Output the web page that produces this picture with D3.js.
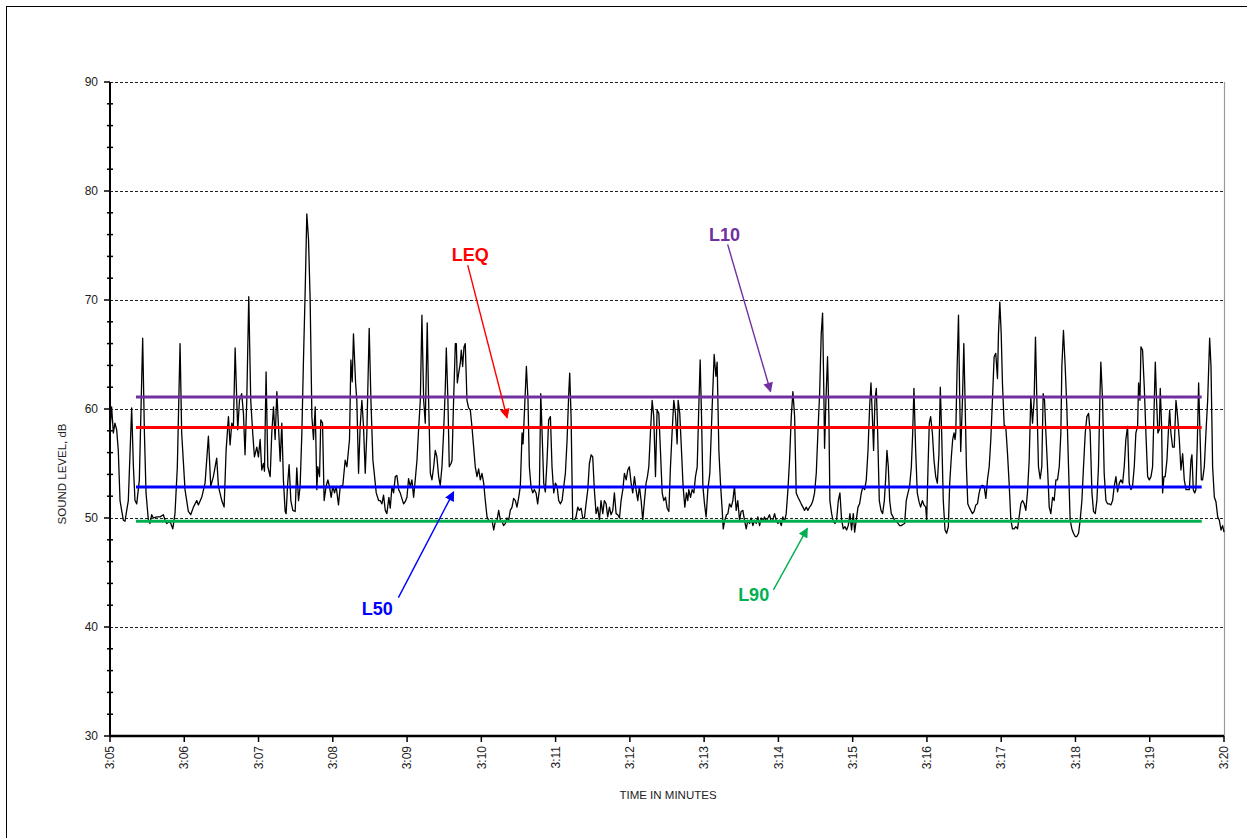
<!DOCTYPE html>
<html>
<head>
<meta charset="utf-8">
<script src="https://cdn.jsdelivr.net/npm/d3@7"></script>
<style>
  body { margin: 0; background: #fff; }
  svg { display: block; }
  text { font-family: "Liberation Sans Narrow", "Arial Narrow", "Liberation Sans", Arial, sans-serif; }
</style>
</head>
<body>
<svg id="chart" width="1247" height="838"></svg>
<script>
// ---- data: sound level trace, [seconds after 3:05:00, dB] ----
const trace1 = [
  [0,58.1],[1.3,60.2],[2.7,57.8],[4,58.7],[5.4,58.1],[6.7,56.2],[8.1,51.6],[9.4,50.7],[10.8,49.8],[12.1,49.7],
  [13.5,50.7],[14.8,51.6],[17.5,60.1],[18.9,54.7],[20.2,51.6],[21.6,51.3],[23.7,53.5],[26.4,66.5],[27.8,57.8],[29.1,52.3],
  [31,49.8],[32.3,49.5],[33.7,50.3],[35,50],[37.7,50.1],[40.4,50.1],[43.1,50.3],[44.5,49.8],[45.8,49.5],[48.5,49.7],
  [50.7,49],[52.5,50.4],[54.4,54.7],[56.6,66],[57.9,57.8],[60.6,52.6],[63.3,50.6],[65.2,50.3],[67.4,51],[70.1,51.6],
  [71.4,51.2],[74.1,51.9],[76.8,53.2],[79.5,57.5],[81.4,52.9],[83.5,53.8],[86.2,55.5],[87.6,52.9],[90.3,51.6],[92.2,51],
  [93.8,56.2],[95.7,59.3],[97,56.7],[98.4,58.7],[99.7,58.4],[101.1,65.6],[102.4,60.8],[103.2,58.1],[104.6,60.8],[106.4,61.4],
  [107.8,59.6],[109.1,55.8],[110.5,60.8],[112.1,70.3],[113.7,60.8],[115.3,57.8],[116.7,55.6],[118.6,56.5],[119.9,55.6],[121.3,57.2],
  [122.6,54.4],[124,55],[124.8,54.3],[126.1,63.4],[127.5,54.7],[129.4,53.8],[130.7,57.8],[132.1,60.2],[133.4,57.2],[134.8,61.6],
  [136.1,58.4],[137.5,55.2],[138.8,58.7],[140.1,53.5],[141.5,50.6],[142.3,50.4],[143.4,52.9],[144.7,54.9],[146.1,51.6],[147.7,50.7],
  [149.6,50.6],[150.9,54.6],[152.3,51.6],[153.6,52.9],[155,57.8],[156.3,64.5],[157.7,70.9],[159,77.9],[160.4,75.5],[161.7,70],
  [163.1,59.3],[164.4,57.2],[165.8,60.2],[167.1,52.6],[167.9,54.7],[169.3,53.8],[170.3,59],[171.7,58.7],[173,51.6],[174.6,52.9],
  [176,53.5],[177.3,52.9],[178.7,51.9],[180,52.9],[181.4,52.3],[182.7,52.9],[184.6,51.2],[186,52.9],[188.1,53],[190,55.3],
  [191.4,54.7],[193.5,57.2],[194.6,64.5],[195.7,62.5],[196.7,66.9],[198.4,62.4],[199.4,60.8],[200.8,54.1],[202.1,58.4],[203.5,60.8],
  [204.8,58.4],[206.2,54.1],[207.5,57.8],[209.4,67.4],[210.8,60.8],[212.4,55.3],[213.5,54.1],[215.1,52.3],[217,51.6],[218.3,51.6],
  [219.7,51.3],[221,52.1],[222.4,50.7],[223.7,50.4],[225.3,51.9]
];
const trace2 = [
  [226.4,50.9],[227.8,52.9],[229.1,52.3],[230.5,53.8],[231.8,53.9],[233.2,52.6],[234.5,52.3],[235.8,51.8],[237.2,51.3],[238.5,51.5],
  [239.9,51.9],[241.2,53.6],[242.6,52.9],[243.9,53.5],[245.3,51.9],[246.6,53.5],[248,55.3],[249.3,58.1],[250.7,60.8],[252,68.6],
  [253.4,60.8],[254.7,58.7],[256.3,67.9],[257.4,60.8],[258.8,54.1],[260.1,53.5],[261.5,54.7],[262.8,56.2],[264.1,55.6],[265.5,53.8],
  [266.8,53],[268.2,54.7],[269.5,57.8],[270.9,62],[271.7,65.6],[273,60.8],[274.1,54.7],[275.5,55],[276.3,55.3],[277.6,60.8],
  [279,66],[279.8,66],[280.6,62.4],[281.7,63.3],[283,64.2],[283.8,65.4],[284.9,63.9],[286,65.7],[287,66],[288.4,60.8],
  [289.7,60.1],[291.1,59.9],[292.4,58.4],[293.8,56.5],[295.1,54.7],[296.5,53.8],[297.8,54.5],[299.2,53.5],[300.5,54.1],[301.9,53.2],
  [303.2,51.6],[304.6,50.1],[305.9,49.8],[307.3,49.7],[308.6,49.8],[310,48.9],[311.3,49.7],[312.7,49.8],[314,50.7],[315.4,49.8],
  [316.7,49.7],[318,49.3],[319.4,49.5],[320.7,50],[322.1,49.8],[323.4,50.7],[324.8,51],[326.1,51.8],[327.5,51.6],[328.8,51],
  [330.2,51.9],[331.5,52.9],[332.9,57.8],[333.7,56.8],[335,60.2],[336.4,63.9],[337.7,60.8],[338.8,54.7],[340.1,52.9],[341.5,52.3],
  [342.8,52.6],[344.2,52.3],[345.5,51.3],[346.9,52.6],[348,61.4],[349,58.1],[350.4,53.2],[351.7,52.4],[353.1,55.3],[354.4,59],
  [355.8,59.3],[357.1,54.7],[358.5,52.3],[359.8,53.2],[361.2,52.9],[362.5,51.6],[363.9,51.3],[365.2,51.6],[366.6,52.9],[367.9,54.1],
  [369.3,57.2],[370.6,61.4],[371.4,63.3],[372.5,59.3],[373.8,49.8],[375.2,49.8],[376.5,50.1],[377.9,51],[379.2,50.7],[380.6,50.9],
  [381.9,50],[383.3,50],[384.6,51.3],[386,52.6],[387.3,55],[388.7,55.8],[390,55.6],[391.3,52.6],[392.7,50.4],[394,51],
  [395.4,49.8],[396.7,51.6],[398.1,50.4],[399.4,51.6],[400.8,51.3],[402.1,50.1],[403.5,51],[404.8,50.3],[406.2,50.7],[407.5,52.3],
  [408.9,50.4],[410.2,50.3],[411.6,50],[412.9,51.6],[414.3,52.6],[415.6,54.1],[417,53.5],[418.3,54.4],[419.6,54.7],[421,53.2],
  [422.3,52.3],[423.7,53.8],[425,52.6],[426.4,51.6],[427.7,52.9],[429.1,51.6],[430.4,49.8],[431.8,51.6],[433.1,53.2],[434.2,53.8],
  [435.3,54.7],[436.6,57.8],[438,60.8],[439.3,59.3],[440.7,53.8],[442,59.9],[443.4,59.6],[444.7,56.2],[446.1,52.3],[447.4,51.6],
  [448.8,51.9],[450.1,50.9],[451.5,50.6],[452.8,54.7]
];
const trace3 = [
  [454.1,57.8],[455.5,60.8],[456.8,59.6],[458.2,56.8],[459,60.8],[460.3,59.6],[461.7,56.2],[463,52.9],[464.4,51],[465.7,52.3],
  [466.8,51.6],[467.6,52.6],[469,51.9],[470.3,52.6],[471.7,52.3],[473,53.8],[474.4,54.7],[475.7,60.2],[476.8,64.5],[477.9,59.3],
  [479,52.9],[480.3,51.3],[481.6,50.1],[483,52.6],[484.6,54.1],[486.5,60.2],[488.1,65],[489.5,63],[490.5,64.3],[491.9,56.2],
  [493.2,53.2],[494.6,50.7],[495.4,49],[496.7,49.8],[498.1,50.3],[499.2,50.4],[500.5,51.3],[501.9,51],[503.2,51.6],[504.5,52.9],
  [505.9,50.7],[507.2,51.6],[508.6,49.8],[509.9,50.6],[511.3,50.7],[512.6,49.8],[514,49],[515.3,49.8],[516.7,49.5],[518,50],
  [519.4,49.3],[520.7,49.8],[522.1,49.5],[523.4,50.1],[524.8,49.3],[526.1,50],[527.5,49.7],[528.8,50.1],[530.1,49.7],[531.5,50],
  [532.8,50.3],[534.2,49.7],[535.5,49.8],[536.9,50.4],[538.2,49.8],[539.6,49.5],[540.9,49.8],[542.3,49.3],[543.6,50.1],[545,49.7],
  [546.3,50.4],[547.7,52.6],[549,55.3],[550.4,59.3],[551.7,61.6],[553.1,59.3],[554.4,52.3],[555.8,51.9],[557.1,51.6],[558.4,51.3],
  [559.8,51],[561.1,50.7],[562.5,51],[563.8,50.7],[565.2,51],[566.5,51.2],[567.9,51.6],[569.2,52.3],[570.6,54.1],[571.9,57.8],
  [573.3,61.4],[574.6,66.9],[575.7,68.8],[576.8,60.8],[577.3,56.4],[578.4,60.8],[579.7,64.8],[580.8,59.3],[581.6,51.6],[583,50.4],
  [584.3,49.7],[585.7,49.5],[587,49.8],[588.4,51.6],[589.7,52.3],[591.1,49.8],[592.4,49],[593.8,49.2],[595.1,48.9],[596.4,49.3],
  [597.8,50.4],[599.1,48.9],[600.5,50.4],[601.6,48.7],[602.9,49.8],[604.3,51],[605.6,51.3],[607,52.3],[608.3,52.9],[609.7,52.6],
  [611,53.5],[612.4,56.2],[613.7,60.2],[614.8,62.4],[615.9,59.3],[616.9,56.2],[618,60.8],[619.1,61.9],[620.2,57.8],[621.5,51.6],
  [622.9,50.7],[624.2,50.4],[625.6,51.6],[626.6,53.5],[627.7,56.2],[628.8,54.7],[629.9,51.6],[631.2,50.4],[632.6,50.1],[633.9,49.8],
  [635.3,49.7],[636.6,49.5],[638,49.3],[639.3,49.3],[640.6,49.4],[642,49.5],[643.3,51.6],[644.7,52.3],[646,52.9],[647.4,54.7],
  [648.5,57.8],[649.5,61.9],[650.9,56.2],[652.2,52.3],[653.6,51.5],[654.9,51],[656.3,51.6],[657.6,51.2],[659,51],[659.8,49.8],
  [660.9,54.7],[661.9,58.7],[663,59.3],[664.4,57.8],[665.7,55.3],[667.1,53.8],[668.4,53.2],[669.7,55.9],[670.8,62],[671.9,57.8],
  [673.2,51.6],[674.6,48.9],[675.9,48.6],[677.3,49.2],[678.4,53.2],[679.7,55.6],[680.8,57.2],[681.9,57.8],[682.7,57.2]
];
const trace4 = [
  [683.3,57.8],[684.4,63.9],[685.5,68.6],[686.5,60.8],[687.3,56.1],[688.7,60.8],[689.8,66],[690.8,60.8],[691.9,54.7],[693,51.3],
  [694.1,51],[695.4,50.7],[696.8,50.4],[698.1,50.6],[699.5,51.2],[700.8,51.3],[702.2,52.3],[703.5,52.9],[704.9,53],[706.2,52.9],
  [707.6,51.8],[708.9,53.5],[710.3,54.7],[711.6,57.2],[712.9,60.8],[714.3,64.8],[715.6,65.1],[717,62.8],[717.8,66.9],[718.9,69.8],
  [720,66.9],[721,62.4],[722.4,58.5],[723.7,58.4],[725.1,55.9],[726.4,53.2],[727.8,49.8],[729.1,49],[730.5,49],[731.8,49.2],
  [733.2,49],[734.5,50.1],[735.9,51.3],[737.2,51.6],[738.6,51.3],[739.9,50.7],[741.2,52.3],[742.6,55.3],[743.9,61.1],[745.3,58.7],
  [746.6,60.8],[747.7,66.6],[748.8,60.8],[750.1,54.7],[751.5,53.6],[752.8,54.7],[753.9,61.4],[755,60.8],[756.1,57.8],[757.4,54.7],
  [758.8,51],[760.1,50.4],[761.5,51.9],[762.8,51.6],[764.2,53.5],[765.5,53.5],[766.9,54.7],[768.2,57.8],[769,63.9],[770.3,67.2],
  [771.7,63.9],[773,60.2],[774.4,54.7],[775.7,49.8],[777.1,49],[778.4,48.6],[779.8,48.3],[781.1,48.3],[782.5,48.6],[783.8,49.8],
  [785.2,51.6],[786.5,54.7],[787.9,57.8],[789.2,59.3],[790.6,59.6],[791.9,57.8],[793.3,52.3],[794.6,50.6],[796,50.4],[797.3,51.6],
  [798.6,54.7],[799.7,60.8],[800.5,64.3],[801.9,60.8],[803.2,54.1],[804.6,51.6],[805.9,51.3],[807.3,51.3],[808.6,51.2],[810,51.6],
  [811.3,52.9],[812.7,53.8],[814,52.4],[815.4,53.2],[816.7,53.5],[818.1,53.2],[819.4,54.7],[820.7,57.2],[822.1,58.4],[823.4,53.2],
  [824.8,52.6],[826.1,52.9],[827.5,54.7],[828.8,57.8],[830.2,58.4],[831,62.4],[832.1,60.8],[832.9,65.7],[834.2,65.4],[835.6,62],
  [836.9,57.8],[838.3,53.8],[839.6,53.5],[841,53.8],[842.3,54.7],[843.7,60.8],[844.5,64.3],[845.5,60.8],[846.6,57.8],[847.7,58.1],
  [848.5,61.9],[849.6,58.4],[850.4,52.3],[851.5,53.8],[852.5,53.8],[853.9,55.3],[855,57.8],[856.1,59.9],[857.1,57.8],[858.5,56.5],
  [859.8,56.5],[861.2,60.8],[862.5,59.3],[863.9,57.2],[865.2,54.4],[866.6,55.9],[867.9,53.5],[869.3,52.6],[870.6,52.6],[872,52.6],
  [873.3,55.3],[874.1,55.8],[875.2,52.6],[876.3,52.3],[877.3,52.6],[878.4,56.8],[879.5,62.4],[880.6,57.8],[881.7,53.5],[882.7,53.5],
  [884.1,54.7],[885.4,57.8],[886.8,60.8],[888.4,66.5],[889.5,63.9],[890.8,54.7],[892.2,51.9],[893.5,51.5],[894.9,50.1],[896.2,49.8],
  [897.6,48.9],[898.9,49.3],[900,48.7]
];

// statistical levels (dB) and the span they are drawn over (seconds)
const statNames  = ["L10", "LEQ", "L50", "L90"];
const statLevels = [61.1, 58.3, 52.85, 49.7];
const statColors = ["#7030A0", "#FF0000", "#0000FF", "#00B050"];
const statSpan   = [21, 882];

// callouts: label position and arrow tail/tip, [seconds, dB]
const calloutLabel = [[496.5, 75.4], [291, 73.6], [216, 41.1], [520, 42.4]];
const calloutTail  = [[499, 75.1], [289, 73.2], [233, 42.7], [536, 43.4]];
const calloutTip   = [[533.7, 61.6], [320.8, 59.2], [277.6, 52.4], [563.4, 49.05]];

// axes
const yTicks = [30, 40, 50, 60, 70, 80, 90];
const gridLevels = [40, 50, 60, 70, 80, 90];
const timeTicks = d3.range(0, 901, 60);
const timeLabels = ["3:05","3:06","3:07","3:08","3:09","3:10","3:11","3:12","3:13","3:14","3:15","3:16","3:17","3:18","3:19","3:20"];

// ---- layout ----
const plot = { left: 110, right: 1224, top: 82, bottom: 736 };
const x = d3.scaleLinear().domain([0, 900]).range([plot.left, plot.right]);
const y = d3.scaleLinear().domain([30, 90]).range([plot.bottom, plot.top]);

const svg = d3.select("#chart");

// outer chart frame (runs off the right and bottom edge)
svg.append("rect")
  .attr("x", 6.5).attr("y", 6.5)
  .attr("width", 1260).attr("height", 850)
  .attr("fill", "none").attr("stroke", "#000").attr("stroke-width", 1);

// gridlines
svg.append("g").selectAll("line")
  .data(gridLevels)
  .join("line")
    .attr("x1", plot.left).attr("x2", plot.right)
    .attr("y1", d => Math.round(y(d)) + 0.5).attr("y2", d => Math.round(y(d)) + 0.5)
    .attr("stroke", "#222").attr("stroke-width", 1)
    .attr("stroke-dasharray", "3,2");

// right plot border
svg.append("line")
  .attr("x1", plot.right + 0.5).attr("x2", plot.right + 0.5)
  .attr("y1", plot.top).attr("y2", plot.bottom)
  .attr("stroke", "#9a9a9a").attr("stroke-width", 1.2);

// sound level trace
const trace = trace1.concat(trace2, trace3, trace4);
svg.append("path")
  .datum(trace)
  .attr("fill", "none")
  .attr("stroke", "#000")
  .attr("stroke-width", 1.3)
  .attr("stroke-linejoin", "round")
  .attr("d", d3.line().x(d => x(d[0])).y(d => y(d[1])));

// statistic lines
svg.append("g").selectAll("line")
  .data(statLevels)
  .join("line")
    .attr("x1", x(statSpan[0])).attr("x2", x(statSpan[1]))
    .attr("y1", d => y(d)).attr("y2", d => y(d))
    .attr("stroke", (d, i) => statColors[i])
    .attr("stroke-width", 3);

// arrowheads, one per colour
const defs = svg.append("defs");
statColors.forEach((c, i) => {
  defs.append("marker")
    .attr("id", "arrow" + i)
    .attr("viewBox", "0 0 10 10")
    .attr("refX", 9).attr("refY", 5)
    .attr("markerWidth", 7.5).attr("markerHeight", 7)
    .attr("markerUnits", "strokeWidth")
    .attr("orient", "auto")
    .append("path")
      .attr("d", "M0,0 L10,5 L0,10 Z")
      .attr("fill", c);
});

svg.append("g").selectAll("line")
  .data(calloutTail)
  .join("line")
    .attr("x1", d => x(d[0])).attr("y1", d => y(d[1]))
    .attr("x2", (d, i) => x(calloutTip[i][0])).attr("y2", (d, i) => y(calloutTip[i][1]))
    .attr("stroke", (d, i) => statColors[i])
    .attr("stroke-width", 1.4)
    .attr("marker-end", (d, i) => `url(#arrow${i})`);

svg.append("g").selectAll("text")
  .data(calloutLabel)
  .join("text")
    .attr("x", d => x(d[0])).attr("y", d => y(d[1]))
    .attr("text-anchor", "middle")
    .attr("font-size", 18)
    .attr("font-weight", "bold")
    .attr("fill", (d, i) => statColors[i])
    .text((d, i) => statNames[i]);

// y axis
const yAxis = svg.append("g").attr("transform", `translate(${plot.left},0)`);
yAxis.append("line")
  .attr("x1", 0).attr("x2", 0).attr("y1", plot.top).attr("y2", plot.bottom)
  .attr("stroke", "#000").attr("stroke-width", 2);
yAxis.selectAll("line.minor")
  .data(d3.range(30, 90.1, 2).filter(v => v % 10 !== 0))
  .join("line").attr("class", "minor")
    .attr("x1", -3).attr("x2", 3)
    .attr("y1", d => y(d)).attr("y2", d => y(d))
    .attr("stroke", "#000").attr("stroke-width", 1.5);
yAxis.selectAll("line.major")
  .data(yTicks)
  .join("line").attr("class", "major")
    .attr("x1", -6).attr("x2", 0)
    .attr("y1", d => y(d)).attr("y2", d => y(d))
    .attr("stroke", "#000").attr("stroke-width", 1.5);
yAxis.selectAll("text")
  .data(yTicks)
  .join("text")
    .attr("x", -12).attr("y", d => y(d)).attr("dy", "0.35em")
    .attr("text-anchor", "end")
    .attr("font-size", 12).attr("fill", "#222")
    .text(d => d);

// x axis
const xAxis = svg.append("g").attr("transform", `translate(0,${plot.bottom})`);
xAxis.append("line")
  .attr("x1", plot.left).attr("x2", plot.right).attr("y1", 0).attr("y2", 0)
  .attr("stroke", "#000").attr("stroke-width", 2.5);
xAxis.selectAll("line.tick")
  .data(timeTicks)
  .join("line").attr("class", "tick")
    .attr("x1", d => x(d)).attr("x2", d => x(d))
    .attr("y1", 0).attr("y2", 6)
    .attr("stroke", "#000").attr("stroke-width", 1.5);
xAxis.selectAll("text")
  .data(timeTicks)
  .join("text")
    .attr("transform", d => `translate(${x(d)},10) rotate(-90)`)
    .attr("dy", "0.35em")
    .attr("text-anchor", "end")
    .attr("font-size", 12).attr("fill", "#222")
    .text((d, i) => timeLabels[i]);

// axis titles
svg.append("text")
  .attr("transform", "translate(62,474) rotate(-90)")
  .attr("dy", "0.35em")
  .attr("text-anchor", "middle")
  .attr("font-size", 11.5).attr("fill", "#222")
  .text("SOUND LEVEL, dB");

svg.append("text")
  .attr("x", 668).attr("y", 795).attr("dy", "0.35em")
  .attr("text-anchor", "middle")
  .attr("font-size", 11.5).attr("fill", "#222")
  .text("TIME IN MINUTES");
</script>
</body>
</html>
